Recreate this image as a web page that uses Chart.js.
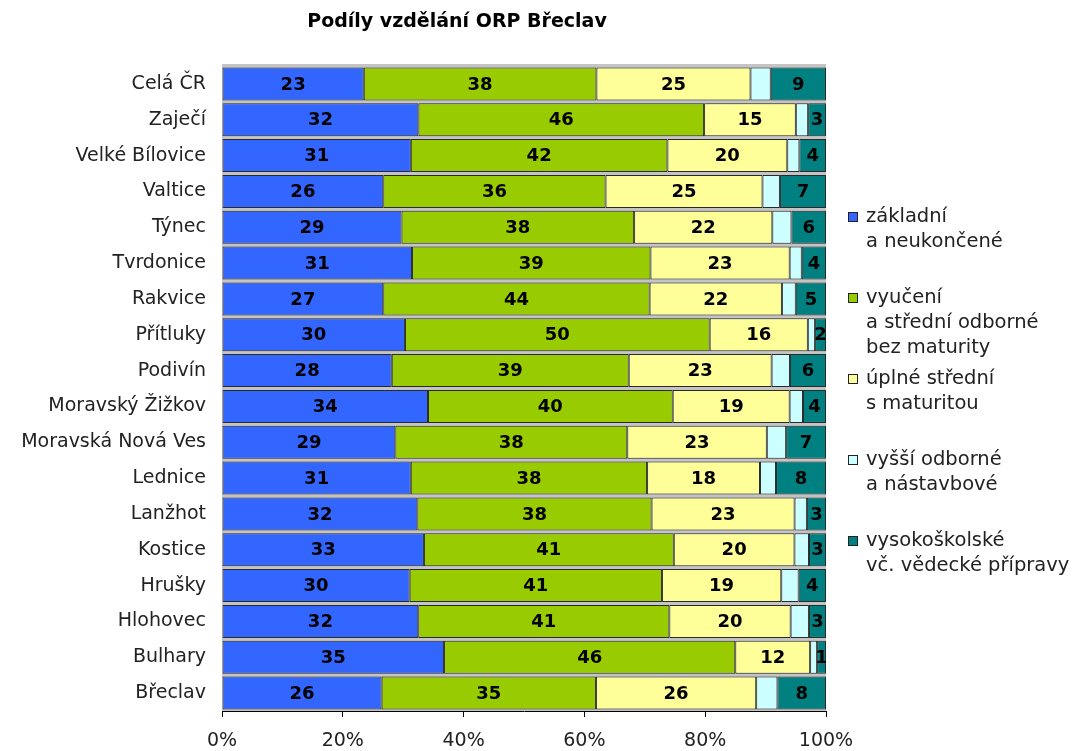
<!DOCTYPE html>
<html>
<head>
<meta charset="utf-8">
<title>Podíly vzdělání ORP Břeclav</title>
<script src="https://cdn.jsdelivr.net/npm/chart.js@4.4.1/dist/chart.umd.min.js"></script>
<style>
  html, body { margin: 0; background: #fff; }
  #wrap { width: 1078px; height: 751px; position: relative; }
</style>
</head>
<body>
<div id="wrap"><canvas id="chart"></canvas></div>
<script>
const title = 'Podíly vzdělání ORP Břeclav';

const obce = ['Celá ČR', 'Zaječí', 'Velké Bílovice', 'Valtice', 'Týnec', 'Tvrdonice',
  'Rakvice', 'Přítluky', 'Podivín', 'Moravský Žižkov', 'Moravská Nová Ves', 'Lednice',
  'Lanžhot', 'Kostice', 'Hrušky', 'Hlohovec', 'Bulhary', 'Břeclav'];

// podíly v %, jak jsou v popiscích (součet nemusí dát 100)
const zakladni      = [23.1, 31.9, 31.2, 25.9, 29.1, 31.4, 26.7, 30.2, 27.8, 34.0, 28.7, 30.6, 31.7, 33.3, 30.2, 32.2, 35.0, 26.3];
const vyuceni       = [37.9, 46.4, 42.4, 35.7, 37.7, 39.4, 44.1, 50.3, 38.8, 40.4, 38.4, 38.3, 38.0, 41.2, 40.6, 41.2, 45.9, 35.3];
const uplneStredni  = [25.1, 14.9, 19.8, 25.2, 22.4, 23.0, 21.9, 16.2, 23.4, 19.3, 23.1, 18.3, 23.2, 19.9, 19.2, 19.9, 11.8, 26.4];
const vyssiOdborne  = [3.3, 2.0, 2.0, 2.8, 3.1, 2.0, 2.3, 1.2, 3.0, 2.2, 3.2, 2.6, 2.0, 2.4, 2.8, 3.0, 1.1, 3.5];
const vysokoskolske = [9.0, 2.9, 4.4, 7.4, 5.6, 4.0, 5.0, 1.8, 5.9, 3.8, 6.6, 8.1, 3.1, 2.8, 4.4, 2.8, 1.4, 8.0];

const xTicks = [0, 20, 40, 60, 80, 100];

const series = [
  { name: ['základní', 'a neukončené'], values: zakladni, color: '#3366ff', label: true },
  { name: ['vyučení', 'a střední odborné', 'bez maturity'], values: vyuceni, color: '#99cc00', label: true },
  { name: ['úplné střední', 's maturitou'], values: uplneStredni, color: '#ffff99', label: true },
  { name: ['vyšší odborné', 'a nástavbové'], values: vyssiOdborne, color: '#ccffff', label: false },
  { name: ['vysokoškolské', 'vč. vědecké přípravy'], values: vysokoskolske, color: '#008080', label: true },
];

// 100% skládaný graf – přepočet na podíl z celku řádku
const totals = obce.map((_, i) => series.reduce((s, d) => s + d.values[i], 0));

const FONT = '"DejaVu Sans", Verdana, sans-serif';

const labelsPlugin = {
  id: 'labels',
  beforeDatasetsDraw(chart) {
    const { ctx, chartArea: a } = chart;
    ctx.save();
    ctx.fillStyle = '#c4c4c4';
    ctx.fillRect(a.left, a.top - 2, a.right - a.left, a.bottom - a.top + 2);
    ctx.restore();
  },
  afterDatasetsDraw(chart) {
    const { ctx, chartArea: a } = chart;
    ctx.save();
    ctx.beginPath();
    ctx.rect(a.left, a.top, a.right - a.left, a.bottom - a.top);
    ctx.clip();
    ctx.font = 'bold 18px ' + FONT;
    ctx.fillStyle = '#000';
    ctx.textAlign = 'center';
    ctx.textBaseline = 'middle';
    chart.data.datasets.forEach((ds, di) => {
      if (!ds.showValue) return;
      chart.getDatasetMeta(di).data.forEach((bar, i) => {
        const txt = Math.round(ds.raw[i]).toString();
        ctx.fillText(txt, (bar.x + bar.base) / 2, bar.y + 1);
      });
    });
    ctx.restore();
  },
  afterDraw(chart) {
    const { ctx } = chart;
    ctx.save();
    // nadpis
    ctx.font = 'bold 19px ' + FONT;
    ctx.fillStyle = '#000';
    ctx.textAlign = 'center';
    ctx.textBaseline = 'middle';
    ctx.fillText(title, 457, 22);
    // legenda
    const lx = 848, ly = 217, slot = 81, lh = 25;
    ctx.font = '19.5px ' + FONT;
    ctx.textAlign = 'left';
    series.forEach((s, k) => {
      const y0 = ly + k * slot;
      ctx.fillStyle = s.color;
      ctx.fillRect(lx, y0 - 5, 10, 10);
      ctx.strokeStyle = '#222';
      ctx.lineWidth = 1;
      ctx.strokeRect(lx + 0.5, y0 - 4.5, 9, 9);
      ctx.fillStyle = '#222';
      s.name.forEach((line, j) => ctx.fillText(line, lx + 18, y0 + j * lh));
    });
    ctx.restore();
  }
};

const el = document.getElementById('chart');
new Chart(el, {
  type: 'bar',
  data: {
    labels: obce,
    datasets: series.map((s) => ({
      label: s.name.join(' '),
      data: s.values.map((v, i) => v / totals[i] * 100),
      raw: s.values,
      showValue: s.label,
      backgroundColor: s.color,
      borderColor: '#2a2a2a',
      borderWidth: 1,
      borderSkipped: false,
      barPercentage: 0.92,
      categoryPercentage: 1,
    }))
  },
  options: {
    indexAxis: 'y',
    responsive: true,
    maintainAspectRatio: false,
    animation: false,
    layout: { padding: { top: 66, right: 252, bottom: 0, left: 6 } },
    plugins: {
      legend: { display: false },
      tooltip: { enabled: false },
    },
    scales: {
      x: {
        stacked: true,
        min: 0,
        max: 100,
        afterBuildTicks: (scale) => { scale.ticks = xTicks.map((v) => ({ value: v })); },
        afterFit: (scale) => { scale.height = 40; },
        ticks: {
          callback: (v) => v + '%',
          font: { family: FONT, size: 19 },
          color: '#222',
          padding: 13,
          maxRotation: 0,
        },
        grid: { drawOnChartArea: false, drawTicks: true, tickLength: 6, color: '#000' },
        border: { display: true, color: '#000' },
      },
      y: {
        stacked: true,
        afterFit: (scale) => { scale.width = 216; },
        ticks: {
          font: { family: FONT, size: 19 },
          color: '#222',
          padding: 8,
        },
        grid: { display: false },
        border: { display: true, color: '#000' },
      }
    }
  },
  plugins: [labelsPlugin]
});
</script>
</body>
</html>
